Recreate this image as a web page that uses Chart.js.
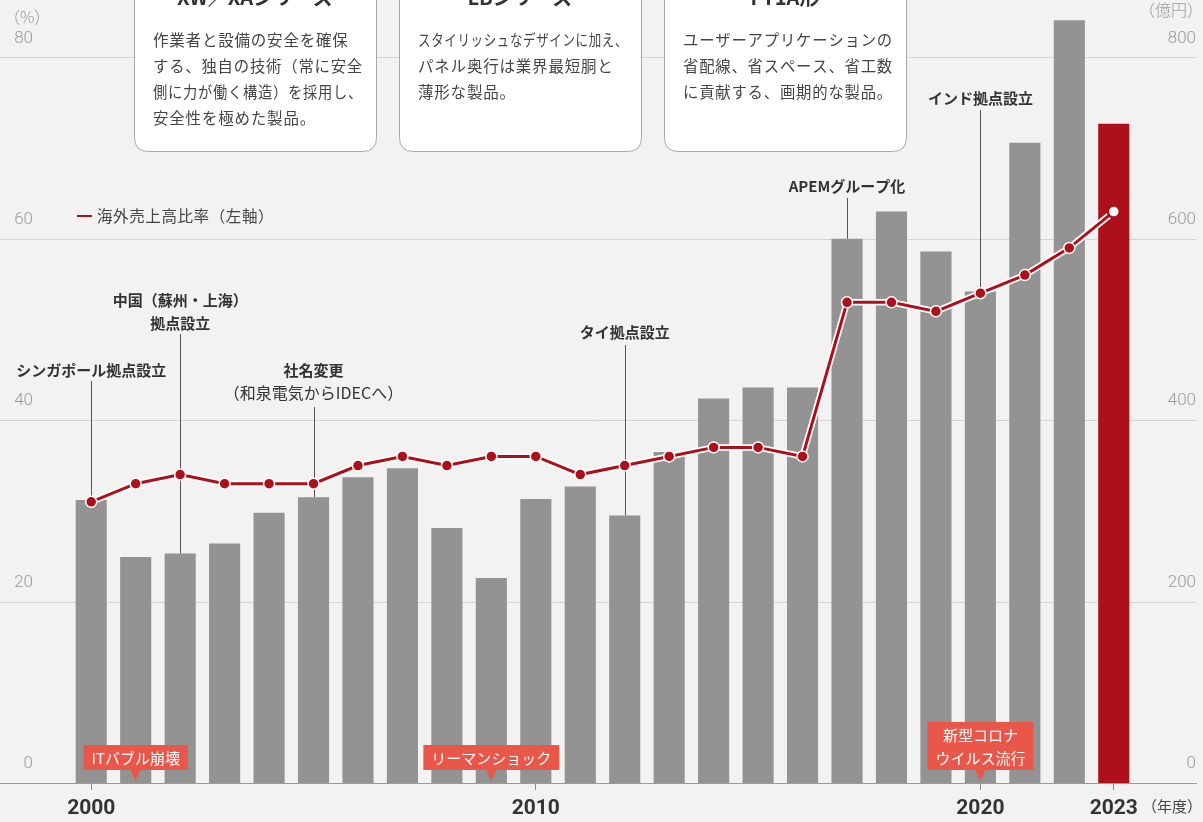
<!DOCTYPE html>
<html>
<head>
<meta charset="utf-8">
<script src="https://cdn.jsdelivr.net/npm/chart.js@4/dist/chart.umd.min.js"></script>
<style>
  html, body { margin: 0; padding: 0; background: #f1f2f1; }
  #wrap { width: 1203px; height: 822px; position: relative; }
</style>
</head>
<body>
<div id="wrap"><canvas id="chart"></canvas></div>
<script>
// fiscal years
const years = ['2000','2001','2002','2003','2004','2005','2006','2007','2008','2009','2010','2011',
  '2012','2013','2014','2015','2016','2017','2018','2019','2020','2021','2022','2023'];
// net sales (億円, right axis)
const sales = [312, 249, 253, 264, 298, 315, 337, 347, 281, 226, 313, 327,
  295, 365, 424, 436, 436, 600, 630, 586, 542, 706, 841, 727];
// overseas sales ratio (%, left axis)
const ratio = [31, 33, 34, 33, 33, 33, 35, 36, 35, 36, 36, 34,
  35, 36, 37, 37, 36, 53, 53, 52, 54, 56, 59, 63];
const leftTicks = [0, 20, 40, 60, 80];
const rightTicks = [0, 200, 400, 600, 800];
const shownYears = ['2000', '2010', '2020', '2023'];

const RED = '#ad101a';
const GREY_BAR = '#939393';
const JP = '"Noto Sans CJK JP", "Noto Sans", sans-serif';
const NUM = 'Roboto, "Liberation Sans", sans-serif';

// milestone notes with leader lines
const milestones = [
  { year: '2000', lines: [['シンガポール拠点設立', 'bold']], textY: 370, lineTop: 381 },
  { year: '2002', lines: [['中国（蘇州・上海）', 'bold'], ['拠点設立', 'bold']], textY: 300, lineTop: 334 },
  { year: '2005', lines: [['社名変更', 'bold'], ['（和泉電気からIDECへ）', 'normal']], textY: 370, lineTop: 407 },
  { year: '2012', lines: [['タイ拠点設立', 'bold']], textY: 332, lineTop: 345 },
  { year: '2017', lines: [['APEMグループ化', 'bold']], textY: 186, lineTop: 198 },
  { year: '2020', lines: [['インド拠点設立', 'bold']], textY: 98, lineTop: 110 }
];

// red event callouts
const events = [
  { year: '2001', lines: ['ITバブル崩壊'] },
  { year: '2009', lines: ['リーマンショック'] },
  { year: '2020', lines: ['新型コロナ', 'ウイルス流行'] }
];

// product boxes at the top
const products = [
  { x: 134, title: 'XW／XAシリーズ', body: ['作業者と設備の安全を確保', 'する、独自の技術（常に安全', '側に力が働く構造）を採用し、', '安全性を極めた製品。'] },
  { x: 399, title: 'LBシリーズ', body: ['スタイリッシュなデザインに加え、', 'パネル奥行は業界最短胴と', '薄形な製品。'] },
  { x: 664, title: 'FT1A形', body: ['ユーザーアプリケーションの', '省配線、省スペース、省工数', 'に貢献する、画期的な製品。'] }
];

function roundRect(ctx, x, y, w, h, r) {
  ctx.beginPath();
  ctx.moveTo(x + r, y);
  ctx.lineTo(x + w - r, y);
  ctx.quadraticCurveTo(x + w, y, x + w, y + r);
  ctx.lineTo(x + w, y + h - r);
  ctx.quadraticCurveTo(x + w, y + h, x + w - r, y + h);
  ctx.lineTo(x + r, y + h);
  ctx.quadraticCurveTo(x, y + h, x, y + h - r);
  ctx.lineTo(x, y + r);
  ctx.quadraticCurveTo(x, y, x + r, y);
  ctx.closePath();
}

const deco = {
  id: 'deco',
  beforeDraw(chart) {
    const ctx = chart.ctx;
    ctx.save();
    ctx.fillStyle = '#f1f2f1';
    ctx.fillRect(0, 0, chart.width, chart.height);
    ctx.restore();
  },
  beforeDatasetsDraw(chart) {
    const ctx = chart.ctx;
    const yl = chart.scales.y, yr = chart.scales.y1, x = chart.scales.x;
    ctx.save();
    // grid lines
    ctx.strokeStyle = '#d3d5d3';
    ctx.lineWidth = 1;
    leftTicks.forEach((t, i) => {
      if (i === 0) return;
      const py = Math.round(yl.getPixelForValue(t)) + 0.5;
      ctx.beginPath(); ctx.moveTo(0, py); ctx.lineTo(1197, py); ctx.stroke();
    });
    // tick labels
    ctx.fillStyle = '#9a9a9a';
    ctx.font = '300 17px ' + NUM;
    ctx.textBaseline = 'middle';
    ctx.textAlign = 'right';
    leftTicks.forEach(t => ctx.fillText(String(t), 33, yl.getPixelForValue(t) - 19));
    rightTicks.forEach(t => ctx.fillText(String(t), 1196, yr.getPixelForValue(t) - 19));
    ctx.font = '300 16px ' + JP;
    ctx.textAlign = 'left';
    ctx.fillText('（%）', 4, 17);
    ctx.textAlign = 'right';
    ctx.fillText('（億円）', 1203, 10);
    // leader lines
    ctx.strokeStyle = '#555';
    ctx.lineWidth = 1;
    milestones.forEach(m => {
      const i = years.indexOf(m.year);
      const px = Math.round(x.getPixelForValue(i)) + 0.5;
      ctx.beginPath();
      ctx.moveTo(px, m.lineTop);
      ctx.lineTo(px, yr.getPixelForValue(sales[i]));
      ctx.stroke();
    });
    ctx.restore();
  },
  afterDatasetsDraw(chart) {
    const ctx = chart.ctx;
    const x = chart.scales.x, yr = chart.scales.y1;
    const base = Math.round(yr.getPixelForValue(0)) + 0.5;
    ctx.save();
    ctx.strokeStyle = '#9a9a9a';
    ctx.lineWidth = 1;
    ctx.beginPath(); ctx.moveTo(0, base); ctx.lineTo(1197, base); ctx.stroke();

    // milestone texts
    ctx.textAlign = 'center';
    ctx.textBaseline = 'middle';
    milestones.forEach(m => {
      const px = x.getPixelForValue(years.indexOf(m.year));
      m.lines.forEach((l, k) => {
        ctx.fillStyle = '#333';
        ctx.font = (l[1] === 'bold' ? '700 15px ' : '400 16px ') + JP;
        ctx.fillText(l[0], px, m.textY + k * 23);
      });
    });

    // event callouts
    ctx.font = '400 15px ' + JP;
    events.forEach(e => {
      const px = x.getPixelForValue(years.indexOf(e.year));
      const w = Math.max(...e.lines.map(l => ctx.measureText(l).width)) + 16;
      const h = 25 + (e.lines.length - 1) * 23;
      const bottom = 770, top = bottom - h;
      ctx.fillStyle = '#e9574b';
      ctx.fillRect(px - w / 2, top, w, h);
      ctx.beginPath();
      ctx.moveTo(px - 5, bottom); ctx.lineTo(px + 5, bottom); ctx.lineTo(px, 781);
      ctx.closePath(); ctx.fill();
      ctx.fillStyle = '#fff';
      e.lines.forEach((l, k) => ctx.fillText(l, px, top + 13 + k * 23));
    });

    // product boxes
    products.forEach(p => {
      roundRect(ctx, p.x + 0.5, -30.5, 242, 182, 14);
      ctx.fillStyle = '#fff';
      ctx.fill();
      ctx.strokeStyle = '#a8a8a8';
      ctx.lineWidth = 1;
      ctx.stroke();
      ctx.fillStyle = '#333';
      ctx.textAlign = 'center';
      ctx.font = '700 20px ' + JP;
      ctx.fillText(p.title, p.x + 121, -3);
      ctx.textAlign = 'left';
      ctx.fillStyle = '#444';
      ctx.font = '400 15.5px ' + JP;
      ctx.letterSpacing = '0.8px';
      p.body.forEach((l, k) => ctx.fillText(l, p.x + 19, 40 + k * 26, 210));
      ctx.letterSpacing = '0px';
    });

    // legend
    ctx.strokeStyle = RED;
    ctx.lineWidth = 2;
    ctx.beginPath(); ctx.moveTo(77, 216); ctx.lineTo(92, 216); ctx.stroke();
    ctx.fillStyle = '#444';
    ctx.font = '400 15.5px ' + JP;
    ctx.letterSpacing = '0.6px';
    ctx.textAlign = 'left';
    ctx.fillText('海外売上高比率（左軸）', 97, 216);
    ctx.letterSpacing = '0px';

    // fiscal year unit
    ctx.fillStyle = '#444';
    ctx.font = '400 15px ' + JP;
    ctx.fillText('（年度）', 1142, 806);
    ctx.restore();
  }
};

const barColors = years.map((y, i) => i === years.length - 1 ? RED : GREY_BAR);
const pointFill = years.map((y, i) => i === years.length - 1 ? '#fff' : RED);
const pointEdge = years.map((y, i) => i === years.length - 1 ? RED : '#fff');
const pointSize = years.map((y, i) => i === years.length - 1 ? 6 : 5.5);
const pointEdgeW = years.map((y, i) => i === years.length - 1 ? 2.5 : 1.5);

new Chart(document.getElementById('chart'), {
  data: {
    labels: years,
    datasets: [
      {
        type: 'line', data: ratio, yAxisID: 'y', order: 0,
        borderColor: RED, borderWidth: 3,
        pointRadius: pointSize, pointBackgroundColor: pointFill,
        pointBorderColor: pointEdge, pointBorderWidth: pointEdgeW, tension: 0
      },
      {
        type: 'line', data: ratio, yAxisID: 'y', order: 1,
        borderColor: '#fff', borderWidth: 6.5, pointRadius: 0, tension: 0
      },
      {
        type: 'bar', data: sales, yAxisID: 'y1', order: 2,
        backgroundColor: barColors, barPercentage: 0.7, categoryPercentage: 1
      }
    ]
  },
  plugins: [deco],
  options: {
    responsive: true,
    maintainAspectRatio: false,
    animation: false,
    layout: { padding: { left: 69, right: 67, top: 0, bottom: -5 } },
    plugins: { legend: { display: false }, tooltip: { enabled: false } },
    scales: {
      x: {
        type: 'category', offset: true,
        border: { display: false },
        grid: {
          offset: false, drawOnChartArea: false, tickLength: 7,
          color: c => shownYears.includes(years[c.index]) ? '#888' : 'rgba(0,0,0,0)'
        },
        ticks: {
          autoSkip: false, maxRotation: 0, padding: 7, color: '#333',
          font: { family: NUM, size: 21, weight: 'bold', lineHeight: 1.1 },
          callback: (v, i) => shownYears.includes(years[i]) ? years[i] : ''
        }
      },
      y: { display: false, min: 0, max: 85.4 },
      y1: { display: false, position: 'right', min: 0, max: 854 }
    }
  }
});
</script>
</body>
</html>
